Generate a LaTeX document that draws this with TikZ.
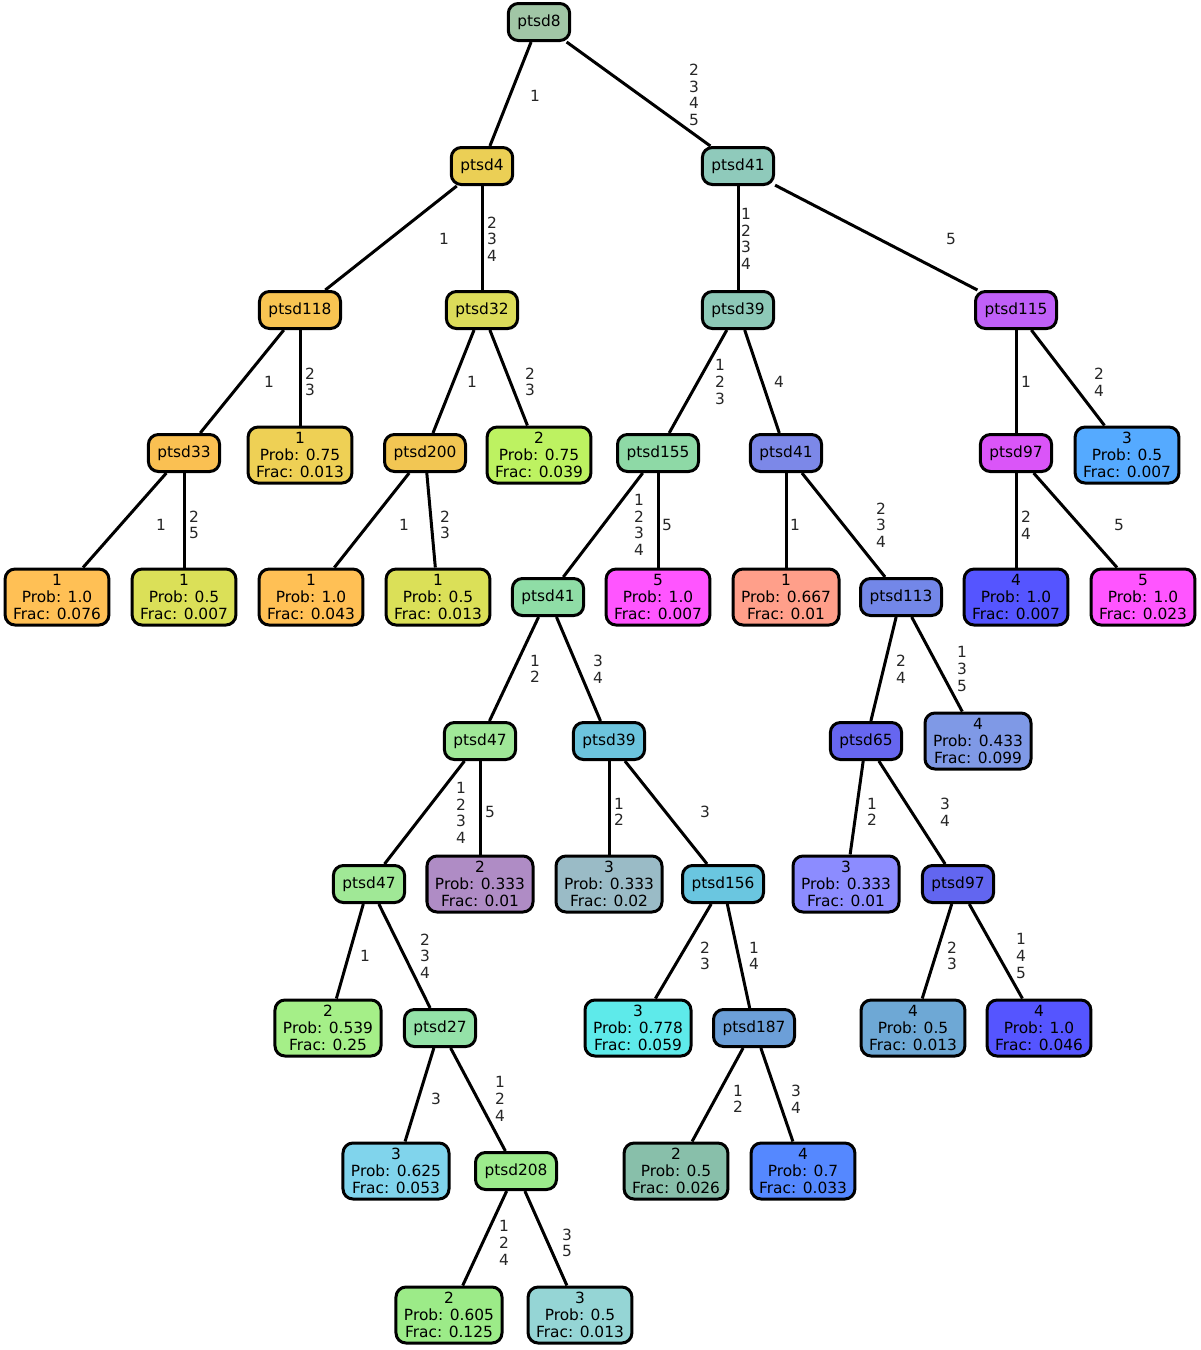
\documentclass[tikz,border=0pt]{standalone}
\usepackage{fontspec}
\setmainfont{DejaVu Sans}
\begin{document}
\begin{tikzpicture}[x=1pt,y=-1pt,
  base/.style={draw=black, line width=3pt, rounded corners=10pt, align=center,
    font=\fontsize{15.4}{16.7}\selectfont, text=black},
  inn/.style={base, minimum height=37pt, inner xsep=9pt, inner ysep=0pt},
  leaf/.style={base, minimum height=56pt, inner xsep=8pt, inner ysep=0pt},
  edge/.style={draw=black, line width=3pt},
  lab/.style={align=center, inner sep=0pt, text=black!85,
    font=\fontsize{15.4}{16.7}\selectfont}]
\useasboundingbox (0,0) rectangle (1201,1350);
% nodes
\node[inn, fill={rgb,255:red,161;green,198;blue,166}] (n8) at (539,22) {ptsd8};
\node[inn, fill={rgb,255:red,235;green,207;blue,85}] (n4) at (482,166) {ptsd4};
\node[inn, fill={rgb,255:red,143;green,202;blue,187}] (n41a) at (738,166) {ptsd41};
\node[inn, fill={rgb,255:red,248;green,196;blue,82}] (n118) at (300,310) {ptsd118};
\node[inn, fill={rgb,255:red,220;green,220;blue,90}] (n32) at (482,310) {ptsd32};
\node[inn, fill={rgb,255:red,141;green,201;blue,183}] (n39a) at (738,310) {ptsd39};
\node[inn, fill={rgb,255:red,192;green,96;blue,248}] (n115) at (1016,310) {ptsd115};
\node[inn, fill={rgb,255:red,250;green,192;blue,82}] (n33) at (184,453) {ptsd33};
\node[leaf, fill={rgb,255:red,238;green,208;blue,85}] (l118) at (300,455) {1\\Prob: 0.75\\Frac: 0.013};
\node[inn, fill={rgb,255:red,242;green,198;blue,83}] (n200) at (425,453) {ptsd200};
\node[leaf, fill={rgb,255:red,189;green,242;blue,97}] (l32) at (539,455) {2\\Prob: 0.75\\Frac: 0.039};
\node[inn, fill={rgb,255:red,142;green,217;blue,166}] (n155) at (658,453) {ptsd155};
\node[inn, fill={rgb,255:red,124;green,136;blue,232}] (n41b) at (786,453) {ptsd41};
\node[inn, fill={rgb,255:red,218;green,85;blue,248}] (n97a) at (1016,453) {ptsd97};
\node[leaf, fill={rgb,255:red,85;green,170;blue,255}] (l115) at (1127,455) {3\\Prob: 0.5\\Frac: 0.007};
\node[leaf, fill={rgb,255:red,255;green,192;blue,85}] (l33a) at (57,597) {1\\Prob: 1.0\\Frac: 0.076};
\node[leaf, fill={rgb,255:red,219;green,224;blue,88}] (l33b) at (184,597) {1\\Prob: 0.5\\Frac: 0.007};
\node[leaf, fill={rgb,255:red,255;green,192;blue,85}] (l200a) at (311,597) {1\\Prob: 1.0\\Frac: 0.043};
\node[leaf, fill={rgb,255:red,219;green,224;blue,88}] (l200b) at (438,597) {1\\Prob: 0.5\\Frac: 0.013};
\node[inn, fill={rgb,255:red,143;green,221;blue,166}] (n41c) at (548,597) {ptsd41};
\node[leaf, fill={rgb,255:red,255;green,85;blue,255}] (l155) at (658,597) {5\\Prob: 1.0\\Frac: 0.007};
\node[leaf, fill={rgb,255:red,255;green,159;blue,138}] (l41b) at (786,597) {1\\Prob: 0.667\\Frac: 0.01};
\node[inn, fill={rgb,255:red,115;green,135;blue,232}] (n113) at (901,597) {ptsd113};
\node[leaf, fill={rgb,255:red,85;green,85;blue,255}] (l97a) at (1016,597) {4\\Prob: 1.0\\Frac: 0.007};
\node[leaf, fill={rgb,255:red,255;green,85;blue,255}] (l97b) at (1143,597) {5\\Prob: 1.0\\Frac: 0.023};
\node[inn, fill={rgb,255:red,160;green,232;blue,152}] (n47a) at (480,741) {ptsd47};
\node[inn, fill={rgb,255:red,108;green,196;blue,221}] (n39b) at (609,741) {ptsd39};
\node[inn, fill={rgb,255:red,102;green,102;blue,240}] (n65) at (866,741) {ptsd65};
\node[leaf, fill={rgb,255:red,127;green,153;blue,230}] (l113) at (978,741) {4\\Prob: 0.433\\Frac: 0.099};
\node[inn, fill={rgb,255:red,160;green,232;blue,150}] (n47b) at (369,884) {ptsd47};
\node[leaf, fill={rgb,255:red,175;green,140;blue,197}] (l47a) at (480,884) {2\\Prob: 0.333\\Frac: 0.01};
\node[leaf, fill={rgb,255:red,154;green,187;blue,198}] (l39b) at (609,884) {3\\Prob: 0.333\\Frac: 0.02};
\node[inn, fill={rgb,255:red,106;green,198;blue,224}] (n156) at (723,884) {ptsd156};
\node[leaf, fill={rgb,255:red,140;green,140;blue,255}] (l65) at (846,884) {3\\Prob: 0.333\\Frac: 0.01};
\node[inn, fill={rgb,255:red,98;green,102;blue,240}] (n97b) at (958,884) {ptsd97};
\node[leaf, fill={rgb,255:red,165;green,239;blue,136}] (l47b) at (328,1028) {2\\Prob: 0.539\\Frac: 0.25};
\node[inn, fill={rgb,255:red,148;green,226;blue,168}] (n27) at (440,1028) {ptsd27};
\node[leaf, fill={rgb,255:red,94;green,234;blue,234}] (l156) at (638,1028) {3\\Prob: 0.778\\Frac: 0.059};
\node[inn, fill={rgb,255:red,108;green,159;blue,216}] (n187) at (754,1028) {ptsd187};
\node[leaf, fill={rgb,255:red,110;green,168;blue,213}] (l97c) at (913,1028) {4\\Prob: 0.5\\Frac: 0.013};
\node[leaf, fill={rgb,255:red,85;green,85;blue,255}] (l97d) at (1039,1028) {4\\Prob: 1.0\\Frac: 0.046};
\node[leaf, fill={rgb,255:red,128;green,212;blue,236}] (l27) at (396,1171) {3\\Prob: 0.625\\Frac: 0.053};
\node[inn, fill={rgb,255:red,156;green,235;blue,140}] (n208) at (516,1171) {ptsd208};
\node[leaf, fill={rgb,255:red,136;green,191;blue,170}] (l187a) at (676,1171) {2\\Prob: 0.5\\Frac: 0.026};
\node[leaf, fill={rgb,255:red,85;green,136;blue,255}] (l187b) at (803,1171) {4\\Prob: 0.7\\Frac: 0.033};
\node[leaf, fill={rgb,255:red,156;green,235;blue,136}] (l208a) at (449,1315) {2\\Prob: 0.605\\Frac: 0.125};
\node[leaf, fill={rgb,255:red,149;green,213;blue,213}] (l208b) at (580,1315) {3\\Prob: 0.5\\Frac: 0.013};
% edges
\begin{scope}[on background layer/.style={}]
\draw[edge] (n8) -- (n4);
\draw[edge] (n8) -- (n41a);
\draw[edge] (n4) -- (n118);
\draw[edge] (n4) -- (n32);
\draw[edge] (n41a) -- (n39a);
\draw[edge] (n41a) -- (n115);
\draw[edge] (n118) -- (n33);
\draw[edge] (n118) -- (l118);
\draw[edge] (n32) -- (n200);
\draw[edge] (n32) -- (l32);
\draw[edge] (n39a) -- (n155);
\draw[edge] (n39a) -- (n41b);
\draw[edge] (n115) -- (n97a);
\draw[edge] (n115) -- (l115);
\draw[edge] (n33) -- (l33a);
\draw[edge] (n33) -- (l33b);
\draw[edge] (n200) -- (l200a);
\draw[edge] (n200) -- (l200b);
\draw[edge] (n155) -- (n41c);
\draw[edge] (n155) -- (l155);
\draw[edge] (n41b) -- (l41b);
\draw[edge] (n41b) -- (n113);
\draw[edge] (n97a) -- (l97a);
\draw[edge] (n97a) -- (l97b);
\draw[edge] (n41c) -- (n47a);
\draw[edge] (n41c) -- (n39b);
\draw[edge] (n113) -- (n65);
\draw[edge] (n113) -- (l113);
\draw[edge] (n47a) -- (n47b);
\draw[edge] (n47a) -- (l47a);
\draw[edge] (n39b) -- (l39b);
\draw[edge] (n39b) -- (n156);
\draw[edge] (n65) -- (l65);
\draw[edge] (n65) -- (n97b);
\draw[edge] (n47b) -- (l47b);
\draw[edge] (n47b) -- (n27);
\draw[edge] (n156) -- (l156);
\draw[edge] (n156) -- (n187);
\draw[edge] (n97b) -- (l97c);
\draw[edge] (n97b) -- (l97d);
\draw[edge] (n27) -- (l27);
\draw[edge] (n27) -- (n208);
\draw[edge] (n187) -- (l187a);
\draw[edge] (n187) -- (l187b);
\draw[edge] (n208) -- (l208a);
\draw[edge] (n208) -- (l208b);
\end{scope}
% edge labels
\node[lab] (e1) at (535,96) {1};
\node[lab] (e2) at (694,95) {2\\3\\4\\5};
\node[lab] (e3) at (444,239) {1};
\node[lab] (e4) at (492,239) {2\\3\\4};
\node[lab] (e5) at (746,239) {1\\2\\3\\4};
\node[lab] (e6) at (951,239) {5};
\node[lab] (e7) at (269,382) {1};
\node[lab] (e8) at (310,382) {2\\3};
\node[lab] (e9) at (472,382) {1};
\node[lab] (e10) at (530,382) {2\\3};
\node[lab] (e11) at (720,382) {1\\2\\3};
\node[lab] (e12) at (779,382) {4};
\node[lab] (e13) at (1026,382) {1};
\node[lab] (e14) at (1099,382) {2\\4};
\node[lab] (e15) at (161,525) {1};
\node[lab] (e16) at (194,525) {2\\5};
\node[lab] (e17) at (404,525) {1};
\node[lab] (e18) at (445,525) {2\\3};
\node[lab] (e19) at (639,525) {1\\2\\3\\4};
\node[lab] (e20) at (667,525) {5};
\node[lab] (e21) at (795,525) {1};
\node[lab] (e22) at (881,525) {2\\3\\4};
\node[lab] (e23) at (1026,525) {2\\4};
\node[lab] (e24) at (1119,525) {5};
\node[lab] (e25) at (535,669) {1\\2};
\node[lab] (e26) at (598,669) {3\\4};
\node[lab] (e27) at (901,669) {2\\4};
\node[lab] (e28) at (962,669) {1\\3\\5};
\node[lab] (e29) at (461,813) {1\\2\\3\\4};
\node[lab] (e30) at (490,812) {5};
\node[lab] (e31) at (619,812) {1\\2};
\node[lab] (e32) at (705,812) {3};
\node[lab] (e33) at (872,812) {1\\2};
\node[lab] (e34) at (945,812) {3\\4};
\node[lab] (e35) at (365,956) {1};
\node[lab] (e36) at (425,956) {2\\3\\4};
\node[lab] (e37) at (705,956) {2\\3};
\node[lab] (e38) at (754,956) {1\\4};
\node[lab] (e39) at (952,956) {2\\3};
\node[lab] (e40) at (1021,956) {1\\4\\5};
\node[lab] (e41) at (436,1099) {3};
\node[lab] (e42) at (500,1099) {1\\2\\4};
\node[lab] (e43) at (738,1099) {1\\2};
\node[lab] (e44) at (796,1099) {3\\4};
\node[lab] (e45) at (504,1243) {1\\2\\4};
\node[lab] (e46) at (567,1243) {3\\5};
\end{tikzpicture}
\end{document}
